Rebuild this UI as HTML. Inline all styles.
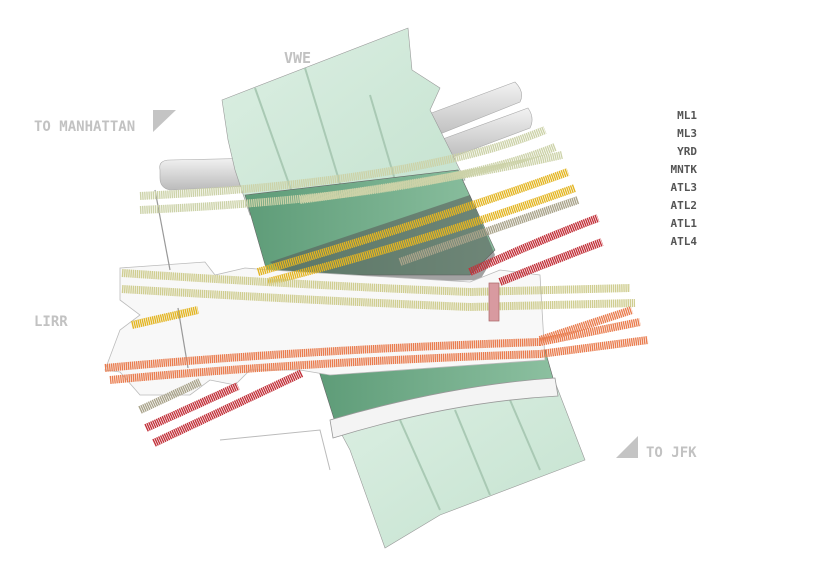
<!DOCTYPE html>
<html><head><meta charset="utf-8"><style>
html,body{margin:0;padding:0;background:#fff;width:815px;height:567px;overflow:hidden}
svg{display:block}
.lbl{font-family:"DejaVu Sans Mono","Liberation Mono",monospace;font-weight:bold;fill:#c2c2c2}
.leg{font-family:"DejaVu Sans Mono","Liberation Mono",monospace;font-weight:bold;fill:#555;font-size:11px}
.t{fill:none;stroke-width:8;stroke-dasharray:1.4 0.7}
</style></head><body>
<svg width="815" height="567" viewBox="0 0 815 567" xmlns="http://www.w3.org/2000/svg">
<defs>
<linearGradient id="lg" x1="0" y1="0" x2="1" y2="1"><stop offset="0" stop-color="#dcefe3"/><stop offset="1" stop-color="#c4e2cf"/></linearGradient>
<linearGradient id="dg" x1="0" y1="0" x2="1" y2="0"><stop offset="0" stop-color="#5e9c78"/><stop offset="1" stop-color="#8cc0a0"/></linearGradient>
<linearGradient id="pipe" x1="0" y1="0" x2="0" y2="1"><stop offset="0" stop-color="#f2f2f2"/><stop offset="1" stop-color="#bbb"/></linearGradient>
</defs>
<path d="M418,118 L515,82 Q525,92 520,102 L425,140 Z" fill="url(#pipe)" stroke="#aaa" stroke-width=".6"/>
<path d="M440,140 L528,108 Q535,118 530,128 L445,160 Z" fill="url(#pipe)" stroke="#aaa" stroke-width=".6"/>
<path d="M160,170 Q158,160 170,160 L265,158 L270,185 L170,190 Q160,188 160,178 Z" fill="url(#pipe)" stroke="#aaa" stroke-width=".6"/>
<polygon points="222,100 408,28 412,70 440,88 430,110 465,180 250,215 235,170 228,140" fill="url(#lg)" stroke="#999" stroke-width=".6"/>
<g stroke="#a9c9b4" stroke-width="2" fill="none"><line x1="255" y1="88" x2="300" y2="215"/><line x1="305" y1="68" x2="345" y2="200"/><line x1="370" y1="95" x2="395" y2="180"/></g>
<polygon points="245,195 458,170 495,250 470,275 268,275" fill="url(#dg)" stroke="#666" stroke-width=".6"/>
<polygon points="270,262 470,195 495,255 480,280 300,285" fill="#555" opacity=".55"/>
<polygon points="318,368 545,350 555,385 335,422" fill="url(#dg)" stroke="#666" stroke-width=".6"/>
<polygon points="335,422 555,382 585,460 440,515 385,548 350,450" fill="url(#lg)" stroke="#999" stroke-width=".6"/>
<g stroke="#a9c9b4" stroke-width="2" fill="none"><line x1="400" y1="420" x2="440" y2="510"/><line x1="455" y1="410" x2="490" y2="495"/><line x1="510" y1="400" x2="540" y2="470"/></g>
<path d="M330,420 Q450,385 555,378 L558,396 Q450,402 333,438 Z" fill="#f4f4f4" stroke="#999" stroke-width=".8"/>
<path d="M120,268 L205,262 L215,275 L245,268 L270,270 L470,282 L500,270 L540,275 L545,360 L330,375 L300,370 L250,370 L235,385 L210,380 L190,395 L140,395 L120,372 L105,370 L120,330 L140,315 L120,300 Z" fill="#f8f8f8" stroke="#bbb" stroke-width=".8"/>
<polyline points="220,440 320,430 330,470" fill="none" stroke="#bbb" stroke-width="1"/>
<line x1="155" y1="190" x2="170" y2="270" stroke="#999" stroke-width="1.2"/>
<line x1="178" y1="308" x2="188" y2="368" stroke="#999" stroke-width="1.2"/>
<g>
<path class="t" stroke="#ccd2a8" d="M140,196 Q420,182 545,130"/>
<path class="t" stroke="#ccd2a8" d="M140,210 Q430,197 555,147"/>
<path class="t" stroke="#ccd2a8" d="M300,200 Q460,178 562,155"/>
<path class="t" stroke="#e3b522" d="M258,272 Q420,225 568,172"/>
<path class="t" stroke="#e3b522" d="M268,282 Q430,240 575,188"/>
<path class="t" stroke="#a9a38a" d="M400,262 Q490,230 578,200"/>
<path class="t" stroke="#c2313a" d="M470,272 Q540,240 598,218"/>
<path class="t" stroke="#c2313a" d="M500,282 Q560,258 602,242"/>
<path class="t" stroke="#cfcd90" d="M122,273 Q300,285 470,292 L630,288"/>
<path class="t" stroke="#cfcd90" d="M122,289 Q300,300 470,307 L635,303"/>
<path class="t" stroke="#e97c4e" d="M105,368 Q300,350 540,342 L640,322"/>
<path class="t" stroke="#e97c4e" d="M110,380 Q300,362 540,354 L648,340"/>
<path class="t" stroke="#e97c4e" d="M540,340 L632,310"/>
<path class="t" stroke="#e3b522" d="M132,325 L198,310"/>
<path class="t" stroke="#a9a38a" d="M140,410 L200,382"/>
<path class="t" stroke="#c2313a" d="M146,428 L238,386"/>
<path class="t" stroke="#c2313a" d="M154,443 L302,373"/>
</g>
<rect x="489" y="283" width="10" height="38" fill="#d89aa0" stroke="#a66" stroke-width=".7"/>
<text class="lbl" x="284" y="63" font-size="15">VWE</text>
<text class="lbl" x="34" y="131" font-size="14">TO MANHATTAN</text>
<polygon points="153,110 176,110 153,132" fill="#c4c4c4"/>
<text class="lbl" x="34" y="326" font-size="14">LIRR</text>
<polygon points="638,436 638,458 616,458" fill="#c4c4c4"/>
<text class="lbl" x="646" y="457" font-size="14">TO JFK</text>
<g class="leg" text-anchor="end">
<text x="697" y="119">ML1</text><text x="697" y="137">ML3</text><text x="697" y="155">YRD</text><text x="697" y="173">MNTK</text>
<text x="697" y="191">ATL3</text><text x="697" y="209">ATL2</text><text x="697" y="227">ATL1</text><text x="697" y="245">ATL4</text>
</g>
</svg>
</body></html>
